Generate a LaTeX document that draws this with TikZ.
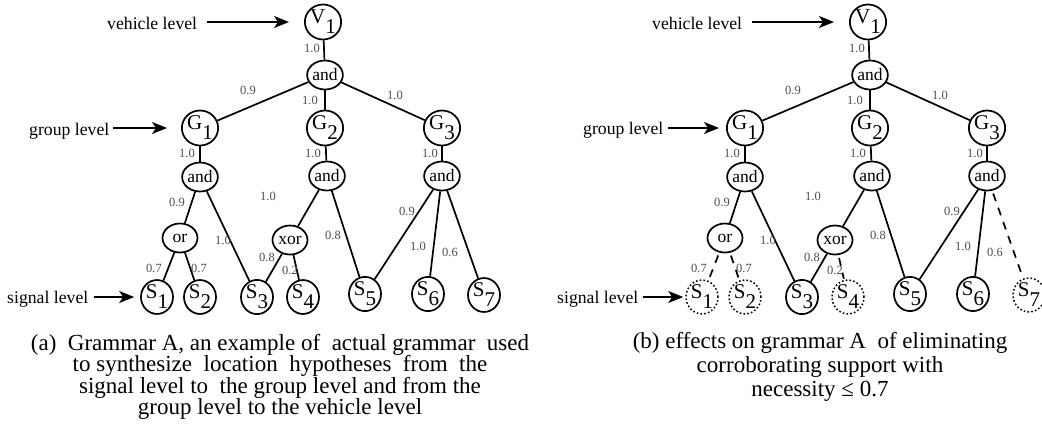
\documentclass[tikz,border=0pt]{standalone}
\usepackage{fontspec}
\setmainfont{Liberation Serif}
\usetikzlibrary{shapes.geometric,arrows.meta}
\newcommand\lsub[2]{#1\raisebox{-0.48em}{#2}}
\newcommand\gramtree[1]{%
  \node[vg] (#1V) at (323,22) {\lsub{V}{1}};
  \node[op] (#1A) at (325,75) {and};
  \node[vg] (#1G1) at (200,128) {\lsub{G}{1}};
  \node[vg] (#1G2) at (325,128) {\lsub{G}{2}};
  \node[vg] (#1G3) at (442,128) {\lsub{G}{3}};
  \node[op] (#1A1) at (200,177) {and};
  \node[op] (#1A2) at (327,176) {and};
  \node[op] (#1A3) at (442,176) {and};
  \node[op] (#1O) at (180,238) {or};
  \node[op] (#1X) at (290,240) {xor};
  \node[weak] (#1S1) at (157,297) {\lsub{S}{1}};
  \node[weak] (#1S2) at (200,297) {\lsub{S}{2}};
  \node[sig] (#1S3) at (257,297) {\lsub{S}{3}};
  \node[weak] (#1S4) at (303,297) {\lsub{S}{4}};
  \node[sig] (#1S5) at (365,294) {\lsub{S}{5}};
  \node[sig] (#1S6) at (428,294) {\lsub{S}{6}};
  \node[weak] (#1S7) at (484,295) {\lsub{S}{7}};
  \draw[ed] (#1V) -- (#1A);
  \draw[ed] (#1A) -- (#1G1);
  \draw[ed] (#1A) -- (#1G2);
  \draw[ed] (#1A) -- (#1G3);
  \draw[ed] (#1G1) -- (#1A1);
  \draw[ed] (#1G2) -- (#1A2);
  \draw[ed] (#1G3) -- (#1A3);
  \draw[ed] (#1A1) -- (#1O);
  \draw[ed] (#1A1) -- (#1S3);
  \draw[ed] (#1A2) -- (#1X);
  \draw[ed] (#1A2) -- (#1S5);
  \draw[ed] (#1A3) -- (#1S5);
  \draw[ed] (#1A3) -- (#1S6);
  \draw[wedge] (#1A3) -- (#1S7);
  \draw[wedge] (#1O) -- (#1S1);
  \draw[wedge] (#1O) -- (#1S2);
  \draw[ed] (#1X) -- (#1S3);
  \draw[wedge] (#1X) -- (#1S4);
  \node[el] (#1l1) at (312,48) {1.0};
  \node[el] (#1l2) at (248,90) {0.9};
  \node[el] (#1l3) at (310,100) {1.0};
  \node[el] (#1l4) at (395,95) {1.0};
  \node[el] (#1l5) at (187,153) {1.0};
  \node[el] (#1l6) at (313,153) {1.0};
  \node[el] (#1l7) at (430,153) {1.0};
  \node[el] (#1l8) at (177,202) {0.9};
  \node[el] (#1l9) at (268,196) {1.0};
  \node[el] (#1l10) at (223,240) {1.0};
  \node[el] (#1l11) at (333,235) {0.8};
  \node[el] (#1l12) at (407,211) {0.9};
  \node[el] (#1l13) at (418,246) {1.0};
  \node[el] (#1l14) at (450,252) {0.6};
  \node[el] (#1l15) at (154,268) {0.7};
  \node[el] (#1l16) at (199,268) {0.7};
  \node[el] (#1l17) at (267,257) {0.8};
  \node[el] (#1l18) at (290,270) {0.2};
}
\begin{document}
\begin{tikzpicture}[x=1pt,y=-1pt,
  nd/.style={ellipse,draw,line width=1.7pt,inner sep=0pt,font=\fontsize{21}{21}\selectfont},
  vg/.style={nd,minimum width=35pt,minimum height=35pt},
  op/.style={nd,minimum width=35pt,minimum height=29pt,font=\fontsize{17.5}{17.5}\selectfont},
  sig/.style={nd,minimum width=32pt,minimum height=32pt},
  gone/.style={sig,dash pattern=on 1.6pt off 2.2pt,line width=1.5pt},
  ed/.style={line width=1.7pt},
  ded/.style={line width=1.7pt,dash pattern=on 8pt off 7pt,shorten <=3pt,shorten >=1pt},
  el/.style={text=black!70,font=\fontsize{12.5}{12.5}\selectfont,inner sep=0pt},
  lvl/.style={font=\fontsize{17.7}{17.7}\selectfont,inner sep=0pt},
  arr/.style={line width=1.6pt,-{Stealth[length=15pt,width=12pt,inset=4pt]}},
  captxt/.style={font=\fontsize{23}{21.5}\selectfont,align=center,inner sep=0pt}]
\useasboundingbox (0,0) rectangle (1042,432);
\begin{scope}[weak/.style={sig},wedge/.style={ed}]
  \gramtree{a}
\end{scope}
\begin{scope}[xshift=545pt,weak/.style={gone},wedge/.style={ded}]
  \gramtree{b}
\end{scope}
% level labels, panel a
\node[lvl,anchor=base west] (avl) at (107,29) {vehicle level};
\node[lvl,anchor=base west] (agl) at (29,135) {group level};
\node[lvl,anchor=base west] (asl) at (7,303) {signal level};
\draw[arr,shorten <=10pt,shorten >=15pt] (avl.east |- aV) -- (aV);
\draw[arr,shorten <=3pt,shorten >=14pt] (agl.east |- aG1) -- (aG1);
\draw[arr,shorten <=5pt,shorten >=6pt] (asl.east |- aS1) -- (aS1);
% level labels, panel b
\node[lvl,anchor=base west] (bvl) at (652,29) {vehicle level};
\node[lvl,anchor=base west] (bgl) at (583,134) {group level};
\node[lvl,anchor=base west] (bsl) at (557,303) {signal level};
\draw[arr,shorten <=10pt,shorten >=15pt] (bvl.east |- bV) -- (bV);
\draw[arr,shorten <=4pt,shorten >=7pt] (bgl.east |- bG1) -- (bG1);
\draw[arr,shorten <=4pt,shorten >=2pt] (bsl.east |- bS1) -- (bS1);
% captions
\node[captxt,anchor=north] (capa) at (280,334) {(a)\ \ Grammar A, an example of\ \ actual grammar\ \ used\\
to synthesize\ \ location\ \ hypotheses\ \ from\ \ the\\
signal level to\ \ the group level and from the\\
group level to the vehicle level};
\node[captxt,anchor=north,font=\fontsize{23}{24}\selectfont] (capb) at (820,332) {(b) effects on grammar A\ \ of eliminating\\
corroborating support with\\
necessity ≤ 0.7};
\end{tikzpicture}
\end{document}
